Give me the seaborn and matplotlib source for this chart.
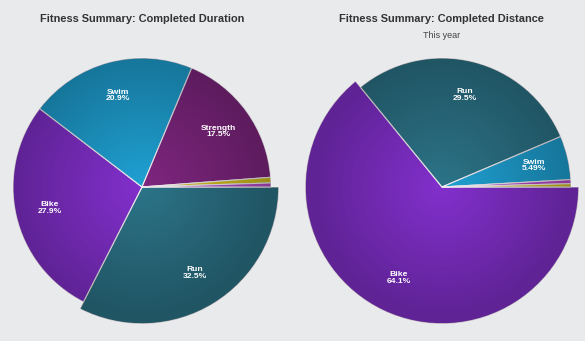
import matplotlib
matplotlib.use("Agg")
import matplotlib.pyplot as plt
import numpy as np
import seaborn as sns

# ---- data ----
dur_labels = ["Run", "Bike", "Swim", "Strength", "Yoga", "Walk"]
dur_values = [32.5, 27.9, 20.9, 17.5, 0.7, 0.5]
dist_labels = ["Bike", "Run", "Swim", "Walk", "Yoga"]
dist_values = [64.1, 29.5, 5.49, 0.5, 0.41]

title_left = "Fitness Summary: Completed Duration"
title_right = "Fitness Summary: Completed Distance"
subtitle_right = "This year"

palette = {
    "Run": "#2c7488",
    "Bike": "#8230cc",
    "Swim": "#1fa1d3",
    "Strength": "#7f2680",
    "Yoga": "#d6c21f",
    "Walk": "#bb4ccd",
}

BG = "#e9eaec"
sns.set_theme(style="white", rc={"figure.facecolor": BG, "axes.facecolor": BG})
plt.rcParams["font.family"] = ["Liberation Sans", "DejaVu Sans"]

W, H = 585, 341
fig = plt.figure(figsize=(W / 100, H / 100), dpi=100)
R = 129  # pie radius in pixels

# radial darkening overlay (center bright -> rim darker)
g = np.linspace(-1.1, 1.1, 400)
gx, gy = np.meshgrid(g, g)
rr = np.clip(np.hypot(gx, gy), 0, 1.0)
shade = np.zeros((400, 400, 4))
shade[..., 3] = 0.27 * rr


def draw_pie(cx, cy, labels, values, highlight):
    s = 2.2 * R
    ax = fig.add_axes([(cx - s / 2) / W, (H - cy - s / 2) / H, s / W, s / H])
    total = sum(values)
    texts = [f"{l}\n{v / total * 100:.3g}%" if v / total > 0.02 else ""
             for l, v in zip(labels, values)]
    wedges, txts = ax.pie(
        values, labels=texts, colors=[palette[l] for l in labels],
        startangle=0, counterclock=False, labeldistance=0.735,
        wedgeprops=dict(edgecolor="#f3eef3", linewidth=0.8),
        textprops=dict(color="white", fontsize=6.1, fontweight="bold"),
    )
    for w, t, l in zip(wedges, txts, labels):
        t.set_ha("center")
        t.set_va("center")
        t.set_linespacing(0.95)
        t.set_zorder(5)
        if l == highlight:
            w.set_radius(1.06)
            x, y = t.get_position()
            t.set_position((x * 1.06, y * 1.06))
        im = ax.imshow(shade, extent=(-1.1, 1.1, -1.1, 1.1), origin="lower",
                       zorder=1.5, interpolation="bilinear")
        im.set_clip_path(w)
    ax.set_xlim(-1.1, 1.1)
    ax.set_ylim(-1.1, 1.1)
    ax.set_aspect("equal")
    ax.axis("off")


draw_pie(142, 187, dur_labels, dur_values, "Run")
draw_pie(442, 187, dist_labels, dist_values, "Bike")

fig.text(142 / W, 1 - 19 / H, title_left, ha="center", va="center",
         fontsize=7.9, fontweight="bold", color="#333333")
fig.text(441.5 / W, 1 - 19 / H, title_right, ha="center", va="center",
         fontsize=7.9, fontweight="bold", color="#333333")
fig.text(441.5 / W, 1 - 36 / H, subtitle_right, ha="center", va="center",
         fontsize=6.5, color="#444444")

fig.savefig("out.png", dpi=100, facecolor=BG)
